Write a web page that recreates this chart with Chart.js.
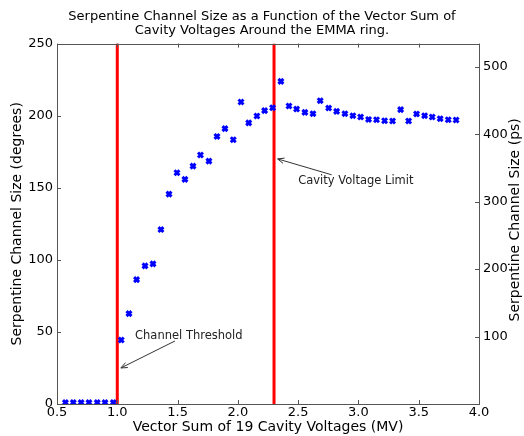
<!DOCTYPE html>
<html>
<head>
	<meta charset="UTF-8">
	<title>Serpentine Channel Size</title>
	<style>
		body { margin: 0; background: #fff; }
		#wrap { width: 524px; height: 436px; }
	</style>
	<script src="https://cdn.jsdelivr.net/npm/chart.js@4.4.0/dist/chart.umd.min.js"></script>
</head>
<body>
	<div id="wrap"><canvas id="canvas" width="524" height="436"></canvas></div>
	<script>
		// values
		var voltage = [0.57, 0.635, 0.70, 0.765, 0.834, 0.898, 0.967,
			1.033, 1.097, 1.16, 1.23, 1.296, 1.362, 1.429, 1.495, 1.561, 1.628, 1.69, 1.76,
			1.827, 1.893, 1.962, 2.026, 2.09, 2.158, 2.222, 2.288, 2.357,
			2.424, 2.487, 2.556, 2.623, 2.683, 2.753, 2.819, 2.888, 2.954, 3.018, 3.084, 3.15,
			3.217, 3.283, 3.35, 3.416, 3.482, 3.549, 3.612, 3.678, 3.745, 3.81];
		var channelDeg = [1, 1, 1, 1, 1, 1, 1,
			44.4, 62.7, 86.3, 95.8, 97.2, 121, 145.6, 160.4, 155.8, 165, 172.7, 168.5,
			185.6, 191, 183.3, 209.5, 195, 199.8, 203.5, 205.5, 223.8,
			206.7, 204.6, 202.3, 201.4, 210.4, 205.3, 203, 201.4, 200, 199.1, 197.4, 197.2,
			196.5, 196.3, 204.2, 196.3, 201.2, 200, 199.1, 197.9, 197.2, 197];
		var limitLines = [1.0, 2.3];
		var xTicks = [0.5, 1.0, 1.5, 2.0, 2.5, 3.0, 3.5, 4.0];
		var yTicks = [0, 50, 100, 150, 200, 250];
		var psTicks = [100, 200, 300, 400, 500];
		var psMax = 250 / 360 * 1e3 / 1.3;   // 250 degrees at 1.3 GHz
		var psTitle = 'Serpentine Channel Size (ps)';
		var notes = [
			{ text: 'Channel Threshold', x: 1.147, y: 47.2, fromX: 1.478, fromY: 43.7, toX: 1.03, toY: 25 },
			{ text: 'Cavity Voltage Limit', x: 2.50, y: 154.4, fromX: 2.778, fromY: 159, toX: 2.33, toY: 170 }
		];

		var font = 'DejaVu Sans';
		var points = voltage.map(function(v, i){ return { x: v, y: channelDeg[i] }; });
		var datasets = [{
			data: points,
			showLine: false,
			pointStyle: 'crossRot',
			pointRadius: 3.5,
			pointBorderWidth: 3,
			borderColor: '#0000ff',
			backgroundColor: '#0000ff',
			order: 0
		}];
		limitLines.forEach(function(v){
			datasets.push({
				data: [{ x: v, y: 0 }, { x: v, y: 250 }],
				showLine: true,
				borderColor: '#ff0000',
				borderWidth: 3,
				pointRadius: 0,
				order: 1
			});
		});

		function fixWidth(w){ return function(s){ s.width = w; }; }
		var noGrid = { display: false, drawTicks: false, tickLength: 0 };

		var framePlugin = {
			id: 'frame',
			afterDraw: function(chart){
				var c = chart.ctx, a = chart.chartArea, sx = chart.scales.x, sy = chart.scales.y, s2 = chart.scales.y2;
				c.save();
				c.strokeStyle = '#555';
				c.lineWidth = 1;
				c.beginPath();
				xTicks.forEach(function(t){
					var px = Math.round(sx.getPixelForValue(t)) + 0.5;
					c.moveTo(px, a.bottom); c.lineTo(px, a.bottom - 4);
					c.moveTo(px, a.top); c.lineTo(px, a.top + 4);
				});
				yTicks.forEach(function(t){
					var py = Math.round(sy.getPixelForValue(t)) + 0.5;
					c.moveTo(a.left, py); c.lineTo(a.left + 4, py);
				});
				psTicks.forEach(function(t){
					var py = Math.round(s2.getPixelForValue(t)) + 0.5;
					c.moveTo(a.right, py); c.lineTo(a.right - 4, py);
				});
				c.stroke();
				c.strokeRect(Math.round(a.left) + 0.5, Math.round(a.top) + 0.5, Math.round(a.right - a.left), Math.round(a.bottom - a.top));

				// right axis title, reading bottom to top
				c.save();
				c.translate(515, (a.top + a.bottom) / 2 - 4);
				c.rotate(-Math.PI / 2);
				c.font = '14px "' + font + '"';
				c.fillStyle = '#000';
				c.textAlign = 'center';
				c.textBaseline = 'middle';
				c.fillText(psTitle, 0, 0);
				c.restore();

				// annotations
				c.font = '11.5px "' + font + '"';
				c.textBaseline = 'middle';
				c.fillStyle = '#222';
				c.strokeStyle = '#333';
				notes.forEach(function(n){
					c.fillText(n.text, sx.getPixelForValue(n.x), sy.getPixelForValue(n.y));
					var x0 = sx.getPixelForValue(n.fromX), y0 = sy.getPixelForValue(n.fromY);
					var x1 = sx.getPixelForValue(n.toX), y1 = sy.getPixelForValue(n.toY);
					var ang = Math.atan2(y1 - y0, x1 - x0), h = 7;
					c.beginPath();
					c.moveTo(x0, y0); c.lineTo(x1, y1);
					c.moveTo(x1 - h * Math.cos(ang - 0.4), y1 - h * Math.sin(ang - 0.4));
					c.lineTo(x1, y1);
					c.lineTo(x1 - h * Math.cos(ang + 0.4), y1 - h * Math.sin(ang + 0.4));
					c.stroke();
				});
				c.restore();
			}
		};

		new Chart(document.getElementById('canvas').getContext('2d'), {
			type: 'scatter',
			data: { datasets: datasets },
			plugins: [framePlugin],
			options: {
				responsive: false,
				animation: false,
				layout: { padding: 0 },
				plugins: {
					legend: { display: false },
					tooltip: { enabled: false },
					title: {
						display: true,
						text: ['Serpentine Channel Size as a Function of the Vector Sum of', 'Cavity Voltages Around the EMMA ring.'],
						color: '#000',
						font: { family: font, size: 13, weight: 'normal', lineHeight: 1.1 },
						padding: { top: 9, bottom: 6 }
					}
				},
				scales: {
					x: {
						type: 'linear', min: 0.5, max: 4.0,
						afterBuildTicks: function(s){ s.ticks = xTicks.map(function(v){ return { value: v }; }); },
						afterFit: function(s){ s.height = 32; },
						grid: noGrid,
						border: { display: false },
						ticks: { color: '#000', padding: 1, font: { family: font, size: 13 },
							callback: function(v){ return v.toFixed(1); } },
						title: { display: true, text: 'Vector Sum of 19 Cavity Voltages (MV)', color: '#000',
							font: { family: font, size: 14 }, padding: { top: 0, bottom: 0 } }
					},
					y: {
						position: 'left', min: 0, max: 250,
						afterBuildTicks: function(s){ s.ticks = yTicks.map(function(v){ return { value: v }; }); },
						afterFit: fixWidth(57),
						grid: noGrid,
						border: { display: false },
						ticks: { color: '#000', padding: 4, font: { family: font, size: 13 } },
						title: { display: true, text: 'Serpentine Channel Size (degrees)', color: '#000',
							font: { family: font, size: 14 }, padding: { top: 9, bottom: 0 } }
					},
					y2: {
						position: 'right', min: 0, max: psMax,
						afterBuildTicks: function(s){ s.ticks = psTicks.map(function(v){ return { value: v }; }); },
						afterFit: fixWidth(45),
						grid: noGrid,
						border: { display: false },
						ticks: { color: '#000', padding: 4, font: { family: font, size: 13 } }
					}
				}
			}
		});
	</script>
</body>
</html>
